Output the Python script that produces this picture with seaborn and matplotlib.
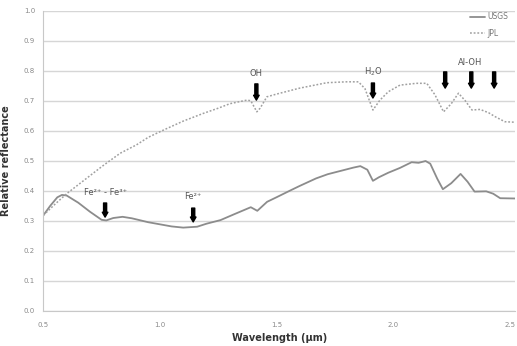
import matplotlib
matplotlib.use("Agg")
import matplotlib.pyplot as plt
import seaborn as sns
import pandas as pd

usgs_wl = [0.50, 0.53, 0.56, 0.58, 0.60, 0.65, 0.70, 0.75, 0.77, 0.80, 0.84, 0.88, 0.95, 1.00,
           1.05, 1.10, 1.16, 1.20, 1.26, 1.32, 1.39, 1.418, 1.46, 1.50, 1.56, 1.60, 1.67, 1.72,
           1.78, 1.83, 1.86, 1.89, 1.914, 1.94, 1.98, 2.03, 2.08, 2.11, 2.14, 2.16, 2.19, 2.214,
           2.25, 2.29, 2.32, 2.35, 2.40, 2.43, 2.46, 2.53]
usgs_refl = [0.318, 0.35, 0.378, 0.386, 0.384, 0.36, 0.33, 0.303, 0.301, 0.309, 0.313, 0.308,
             0.295, 0.288, 0.281, 0.277, 0.28, 0.29, 0.302, 0.322, 0.345, 0.333, 0.363, 0.378,
             0.401, 0.416, 0.441, 0.455, 0.467, 0.477, 0.482, 0.47, 0.433, 0.445, 0.46, 0.476,
             0.495, 0.493, 0.499, 0.49, 0.44, 0.405, 0.425, 0.456, 0.43, 0.397, 0.398, 0.39,
             0.375, 0.374]

jpl_wl = [0.50, 0.55, 0.60, 0.65, 0.70, 0.75, 0.78, 0.83, 0.90, 0.95, 1.015, 1.10, 1.187, 1.25,
          1.30, 1.373, 1.39, 1.416, 1.43, 1.459, 1.50, 1.60, 1.716, 1.80, 1.852, 1.88, 1.914,
          1.944, 1.98, 2.03, 2.10, 2.145, 2.18, 2.217, 2.25, 2.281, 2.31, 2.339, 2.374, 2.41,
          2.438, 2.48, 2.53]
jpl_refl = [0.318, 0.355, 0.39, 0.42, 0.45, 0.48, 0.497, 0.525, 0.553, 0.578, 0.602, 0.632,
            0.658, 0.675, 0.69, 0.702, 0.70, 0.663, 0.675, 0.713, 0.722, 0.742, 0.76, 0.763,
            0.763, 0.74, 0.669, 0.702, 0.73, 0.752, 0.758, 0.758, 0.72, 0.663, 0.69, 0.725,
            0.70, 0.669, 0.671, 0.66, 0.647, 0.63, 0.628]

x_ticks = [0.5, 1.0, 1.5, 2.0, 2.5]
x_ticklabels = ["0.5", "1.0", "1.5", "2.0", "2.5"]
y_ticks = [0.0, 0.1, 0.2, 0.3, 0.4, 0.5, 0.6, 0.7, 0.8, 0.9, 1.0]
y_ticklabels = ["0.0", "0.1", "0.2", "0.3", "0.4", "0.5", "0.6", "0.7", "0.8", "0.9", "1.0"]

# absorption features: label, arrow wavelengths, arrow top/bottom, label y
features = [
    ("Fe²⁺ - Fe³⁺", [0.765], 0.359, 0.312, 0.380),
    ("Fe²⁺", [1.143], 0.342, 0.296, 0.365),
    ("OH", [1.414], 0.756, 0.702, 0.775),
    ("H$_2$O", [1.914], 0.759, 0.709, 0.776),
    ("Al-OH", [2.224, 2.336, 2.434], 0.796, 0.742, 0.812),
]

sns.set_style("white")
plt.rcParams['font.family'] = ['DejaVu Sans']

fig = plt.figure(figsize=(5.17, 3.46), dpi=100)
ax = fig.add_axes([0.0838, 0.102, 0.913, 0.867])

df_u = pd.DataFrame({"wl": usgs_wl, "r": usgs_refl})
df_j = pd.DataFrame({"wl": jpl_wl, "r": jpl_refl})

sns.lineplot(data=df_u, x="wl", y="r", ax=ax, color="#8c8c8c", lw=1.3, label="USGS",
             estimator=None, sort=False)
sns.lineplot(data=df_j, x="wl", y="r", ax=ax, color="#a0a0a0", lw=1.1, label="JPL",
             estimator=None, sort=False, linestyle=(0, (1.2, 1.2)))

ax.set_xlim(0.5, 2.525)
ax.set_ylim(0.0, 1.0)
ax.set_xticks(x_ticks)
ax.set_xticklabels(x_ticklabels)
ax.set_yticks(y_ticks)
ax.set_yticklabels(y_ticklabels)
ax.grid(axis="y", color="#d6d6d6", lw=1.0)
ax.set_axisbelow(True)
for s in ["top", "right"]:
    ax.spines[s].set_visible(False)
ax.spines["left"].set_color("#c8c8c8")
ax.spines["bottom"].set_color("#c8c8c8")
ax.tick_params(axis="both", labelsize=5, colors="#8a8a8a", length=0, pad=6)
ax.tick_params(axis="x", length=2, color="#c8c8c8", direction="in", pad=8)

ax.set_xlabel("Wavelength (\u03bcm)", fontsize=7, fontweight="bold", color="#333333", labelpad=4)
ax.set_ylabel("Relative reflectance", fontsize=7, fontweight="bold", color="#333333", labelpad=9)

for label, xs, ytop, ybot, ylab in features:
    for xv in xs:
        ax.annotate("", xy=(xv, ybot), xytext=(xv, ytop),
                    arrowprops=dict(arrowstyle="simple,head_width=0.4,head_length=0.35,tail_width=0.22",
                                    color="black", shrinkA=0, shrinkB=0))
    ax.text(sum(xs) / len(xs), ylab, label, fontsize=6, color="#555555",
            ha="center", va="bottom")

leg = ax.legend(loc="upper right", bbox_to_anchor=(1.0, 1.018), frameon=False, fontsize=5.5,
                handlelength=2.0, labelspacing=1.0, handletextpad=0.3)
for t in leg.get_texts():
    t.set_color("#777777")

fig.savefig("out.png", dpi=100)
